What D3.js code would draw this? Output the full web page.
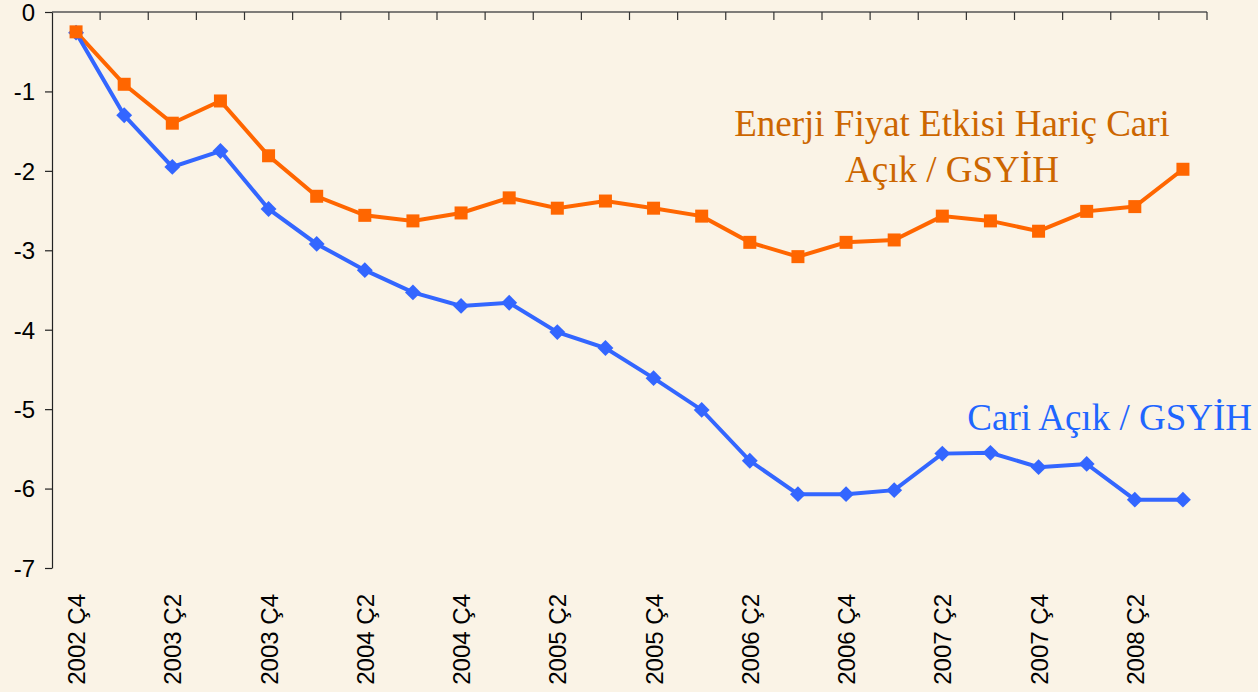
<!DOCTYPE html>
<html>
<head>
<meta charset="utf-8">
<script src="https://cdn.jsdelivr.net/npm/d3@7"></script>
<style>
  html, body { margin: 0; padding: 0; background: #faf3e6; }
  svg { display: block; }
</style>
</head>
<body>
<svg id="chart" width="1258" height="692"></svg>
<script>
// quarters (Ç = çeyrek)
var quarters = [
  "2002 Ç4", "2003 Ç1", "2003 Ç2", "2003 Ç3", "2003 Ç4", "2004 Ç1",
  "2004 Ç2", "2004 Ç3", "2004 Ç4", "2005 Ç1", "2005 Ç2", "2005 Ç3",
  "2005 Ç4", "2006 Ç1", "2006 Ç2", "2006 Ç3", "2006 Ç4", "2007 Ç1",
  "2007 Ç2", "2007 Ç3", "2007 Ç4", "2008 Ç1", "2008 Ç2", "2008 Ç3"
];

var cariAcik = [
  -0.26, -1.30, -1.95, -1.75, -2.48, -2.92, -3.25, -3.53, -3.70, -3.66,
  -4.03, -4.23, -4.61, -5.01, -5.65, -6.07, -6.07, -6.02, -5.56, -5.55,
  -5.73, -5.69, -6.14, -6.14
];

var enerjiHaric = [
  -0.25, -0.91, -1.40, -1.12, -1.81, -2.32, -2.56, -2.63, -2.53, -2.34,
  -2.47, -2.38, -2.47, -2.57, -2.90, -3.08, -2.90, -2.87, -2.57, -2.63,
  -2.76, -2.51, -2.45, -1.98
];

var yTicks = [0, -1, -2, -3, -4, -5, -6, -7];

var svg = d3.select("#chart");
var margin = {top: 12, left: 52, right: 51, bottom: 124};
var width = 1258 - margin.left - margin.right,
    height = 692 - margin.top - margin.bottom;

var g = svg.append("g")
  .attr("transform", "translate(" + margin.left + "," + margin.top + ")");

var x = d3.scaleBand()
  .domain(quarters)
  .range([0, width]);

var y = d3.scaleLinear()
  .domain([-7, 0])
  .range([height, 0]);

var cx = function(i) { return x(quarters[i]) + x.bandwidth() / 2; };

// top axis (at 0), ticks between categories
g.append("line")
  .attr("x1", 0).attr("x2", width)
  .attr("y1", y(0)).attr("y2", y(0))
  .attr("stroke", "#555").attr("stroke-width", 1.3);

g.selectAll(".xtick")
  .data(quarters)
  .enter().append("line")
  .attr("x1", function(d) { return x(d) + x.bandwidth(); })
  .attr("x2", function(d) { return x(d) + x.bandwidth(); })
  .attr("y1", y(0))
  .attr("y2", y(0) + 8)
  .attr("stroke", "#333").attr("stroke-width", 1.2);

// left axis
var yAxis = d3.axisLeft(y)
  .tickValues(yTicks)
  .tickSizeInner(7)
  .tickSizeOuter(0)
  .tickPadding(10)
  .tickFormat(function(d) { return String(d); });

var ya = g.append("g").call(yAxis);
ya.select(".domain").attr("stroke", "#222").attr("stroke-width", 1.2);
ya.selectAll(".tick line").attr("stroke", "#222").attr("stroke-width", 1.2);
ya.selectAll(".tick text")
  .attr("font-family", "Liberation Sans, Arial, sans-serif")
  .attr("font-size", 24)
  .attr("fill", "#000")
  .attr("dy", "0.35em");

// x labels, every second quarter, rotated
g.selectAll(".xlabel")
  .data(quarters.filter(function(d, i) { return i % 2 === 0; }))
  .enter().append("text")
  .attr("transform", function(d) {
    return "translate(" + (x(d) + x.bandwidth() / 2 + 9) + "," + (height + 26) + ") rotate(-90)";
  })
  .attr("text-anchor", "end")
  .attr("font-family", "Liberation Sans, Arial, sans-serif")
  .attr("font-size", 24)
  .attr("fill", "#000")
  .text(function(d) { return d; });

var line = d3.line()
  .x(function(d, i) { return cx(i); })
  .y(function(d) { return y(d); });

// orange series
g.append("path")
  .datum(enerjiHaric)
  .attr("d", line)
  .attr("fill", "none")
  .attr("stroke", "#ff6600")
  .attr("stroke-width", 4);

// blue series
g.append("path")
  .datum(cariAcik)
  .attr("d", line)
  .attr("fill", "none")
  .attr("stroke", "#3366ff")
  .attr("stroke-width", 4);

g.selectAll(".diamond")
  .data(cariAcik)
  .enter().append("path")
  .attr("d", d3.symbol().type(d3.symbolDiamond2).size(160))
  .attr("transform", function(d, i) { return "translate(" + cx(i) + "," + y(d) + ")"; })
  .attr("fill", "#3366ff");

g.selectAll(".square")
  .data(enerjiHaric)
  .enter().append("rect")
  .attr("x", function(d, i) { return cx(i) - 6.5; })
  .attr("y", function(d) { return y(d) - 6.5; })
  .attr("width", 13)
  .attr("height", 13)
  .attr("fill", "#ff6600");

// series labels
var lab = svg.append("text")
  .attr("font-family", "Liberation Serif, Times New Roman, serif")
  .attr("font-size", 37)
  .attr("fill", "#cc6600")
  .attr("text-anchor", "middle");
lab.append("tspan").attr("x", 952).attr("y", 136).text("Enerji Fiyat Etkisi Hariç Cari");
lab.append("tspan").attr("x", 952).attr("y", 182).text("Açık / GSYİH");

svg.append("text")
  .attr("x", 1252)
  .attr("y", 430)
  .attr("text-anchor", "end")
  .attr("font-family", "Liberation Serif, Times New Roman, serif")
  .attr("font-size", 37)
  .attr("fill", "#1f66ff")
  .text("Cari Açık / GSYİH");
</script>
</body>
</html>
